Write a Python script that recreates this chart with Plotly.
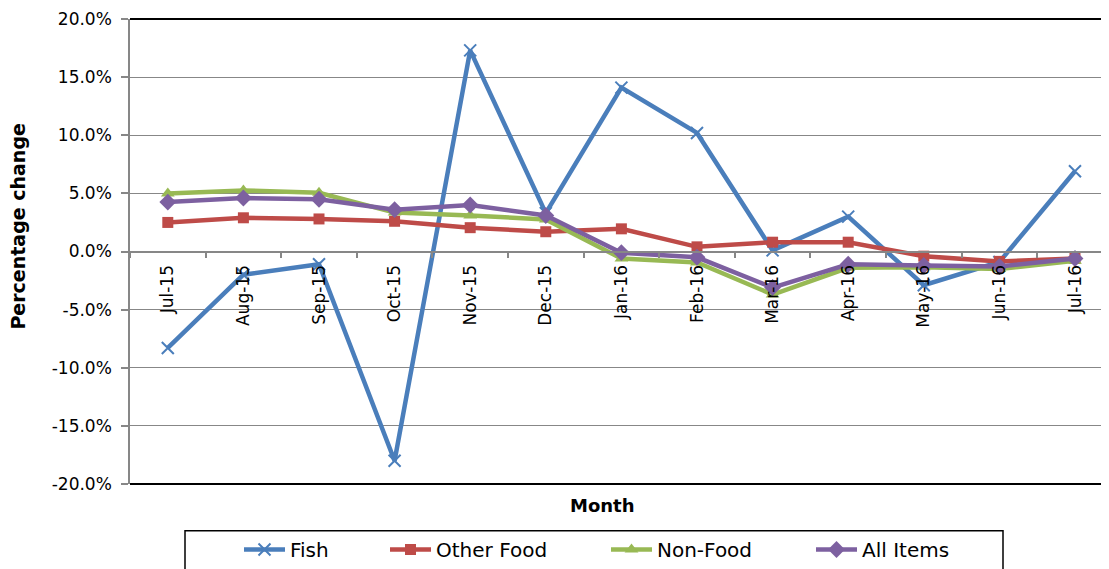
import plotly.graph_objects as go

months = ["Jul-15", "Aug-15", "Sep-15", "Oct-15", "Nov-15", "Dec-15", "Jan-16",
          "Feb-16", "Mar-16", "Apr-16", "May-16", "Jun-16", "Jul-16"]
fish = [-8.3, -2.0, -1.1, -18.0, 17.3, 3.3, 14.1, 10.2, 0.1, 3.0, -2.9, -0.9, 6.9]
other_food = [2.5, 2.9, 2.8, 2.6, 2.05, 1.7, 1.95, 0.4, 0.8, 0.8, -0.4, -0.85, -0.6]
non_food = [5.0, 5.25, 5.05, 3.35, 3.1, 2.75, -0.6, -0.95, -3.7, -1.4, -1.35, -1.5, -0.8]
all_items = [4.25, 4.6, 4.5, 3.6, 4.0, 3.1, -0.1, -0.5, -3.1, -1.1, -1.2, -1.3, -0.6]

y_tick_vals = [-20, -15, -10, -5, 0, 5, 10, 15, 20]
y_tick_text = ["-20.0%", "-15.0%", "-10.0%", "-5.0%", "0.0%", "5.0%", "10.0%", "15.0%", "20.0%"]

OFF = 8  # page body margin
W, H = 1109 - OFF, 569 - OFF
ML, MT, MB = 130 - OFF, 19 - OFF, 569 - 486
PW = W - ML
PH = H - MT - MB


def px_x(p):
    return (p - OFF - ML) / PW


def px_y(p):
    return (H - MB - (p - OFF)) / PH


FONT = "DejaVu Sans"
BLUE = "#4A7EBB"
RED = "#BE4B48"
GREEN = "#98B954"
PURPLE = "#7D60A0"
GRID = "#878787"

series = [
    ("Fish", fish, BLUE, "x-thin", 12, "legend"),
    ("Other Food", other_food, RED, "square", 11, "legend2"),
    ("Non-Food", non_food, GREEN, "triangle-up", 12, "legend3"),
    ("All Items", all_items, PURPLE, "diamond", 13, "legend4"),
]

fig = go.Figure()
for name, vals, col, sym, size, leg in series:
    fig.add_trace(go.Scatter(
        x=months, y=vals, name=name, mode="lines+markers",
        line=dict(color=col, width=4.5),
        marker=dict(symbol=sym, size=size, color=col,
                    line=dict(color=col, width=2 if sym == "x-thin" else 0)),
        legend=leg,
    ))

leg_starts = [240, 386, 607, 812]
leg_y = px_y(552)
legend_common = dict(orientation="h", xanchor="left", yanchor="middle",
                     bgcolor="rgba(0,0,0,0)", borderwidth=0, itemwidth=41,
                     font=dict(family=FONT, size=20, color="black"))
legends = {}
for i, key in enumerate(["legend", "legend2", "legend3", "legend4"]):
    legends[key] = dict(x=px_x(leg_starts[i] - 1), y=leg_y, **legend_common)

fig.update_layout(
    width=W, height=H,
    margin=dict(l=ML, r=0, t=MT, b=MB, pad=0),
    paper_bgcolor="white", plot_bgcolor="white",
    showlegend=True,
    font=dict(family=FONT, color="black"),
    xaxis=dict(
        type="category", range=[-0.5, 12.45],
        anchor="free", position=0.5,
        showline=True, linecolor=GRID, linewidth=1.5,
        ticks="outside", tickson="boundaries", ticklen=6, tickcolor=GRID, tickwidth=1.5,
        tickangle=-90, showgrid=False, ticklabelstandoff=6,
        tickfont=dict(family=FONT, size=17, color="black"),
    ),
    yaxis=dict(
        range=[-20, 20], tickvals=y_tick_vals, ticktext=y_tick_text,
        showline=True, linecolor=GRID, linewidth=1.5,
        ticks="outside", ticklen=7, tickcolor=GRID, tickwidth=1.5,
        showgrid=True, gridcolor=GRID, gridwidth=1.3, zeroline=False,
        tickfont=dict(family=FONT, size=17, color="black"),
        ticklabelstandoff=6,
    ),
    annotations=[
        dict(text="<b>Percentage change</b>", xref="paper", yref="paper",
             x=px_x(18), y=px_y(227.5), textangle=-90, showarrow=False,
             xanchor="center", yanchor="middle",
             font=dict(family=FONT, size=19, color="black")),
        dict(text="<b>Month</b>", xref="paper", yref="paper",
             x=px_x(602), y=px_y(508), showarrow=False,
             xanchor="center", yanchor="middle",
             font=dict(family=FONT, size=18, color="black")),
    ],
    shapes=[
        dict(type="line", xref="paper", yref="paper", x0=0, x1=1, y0=1, y1=1,
             line=dict(color="black", width=2)),
        dict(type="line", xref="paper", yref="paper", x0=0, x1=1, y0=0, y1=0,
             line=dict(color="black", width=2)),
        dict(type="rect", xref="paper", yref="paper",
             x0=px_x(185), x1=px_x(1003), y0=px_y(533), y1=px_y(590),
             line=dict(color="black", width=1.5), fillcolor="rgba(0,0,0,0)"),
    ],
    **legends,
)

fig.write_html("out.html")
